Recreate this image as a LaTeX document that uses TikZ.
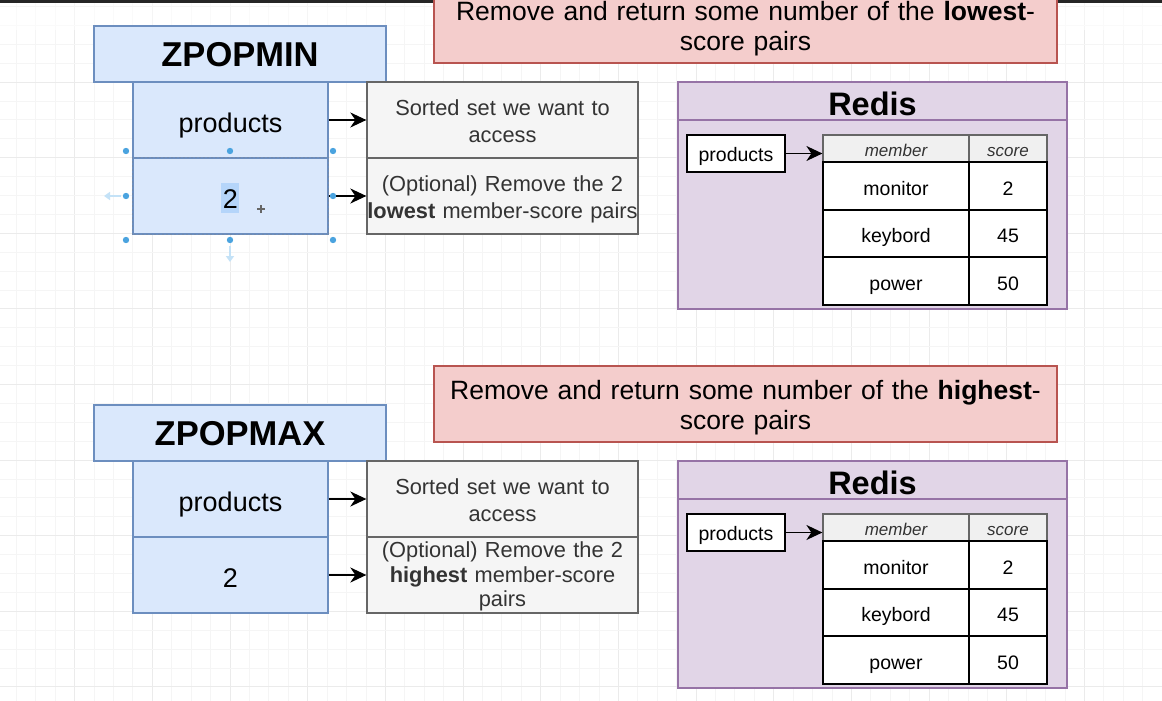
\documentclass[tikz,border=0pt]{standalone}
\usepackage{fontspec}
\setmainfont{Liberation Sans}
\usetikzlibrary{arrows.meta}
\definecolor{bluef}{HTML}{DAE8FC}
\definecolor{blueb}{HTML}{6C8EBF}
\definecolor{grayf}{HTML}{F5F5F5}
\definecolor{grayb}{HTML}{666666}
\definecolor{pinkf}{HTML}{F4CDCC}
\definecolor{pinkb}{HTML}{B85450}
\definecolor{purpf}{HTML}{E1D5E7}
\definecolor{purpb}{HTML}{9673A6}
\definecolor{txtgray}{HTML}{333333}
\definecolor{hdrf}{HTML}{F0F0F0}
\definecolor{gridminor}{HTML}{F5F5F5}
\definecolor{gridmajor}{HTML}{EBEBEB}
\definecolor{selblue}{HTML}{4AA3DF}
\definecolor{selhint}{HTML}{C4E2F7}
\definecolor{texthl}{HTML}{B5D5FA}
\begin{document}
\begin{tikzpicture}[x=1pt,y=-1pt,
  cmdbox/.style={draw=blueb,fill=bluef,line width=1.3pt,minimum width=292pt,minimum height=56pt,inner sep=0pt,text height=25pt,text depth=0pt,font=\fontsize{34.5}{38}\selectfont\bfseries},
  argbox/.style={draw=blueb,fill=bluef,line width=1.3pt,minimum width=195pt,minimum height=76pt,inner sep=0pt,text height=24pt,text depth=0pt,font=\fontsize{27}{30}\selectfont},
  descbox/.style={draw=grayb,fill=grayf,line width=1.3pt,minimum width=271pt,minimum height=76pt,text width=271pt,inner sep=0pt,align=center,text=txtgray,text height=23pt,text depth=31.3pt,font=\fontsize{21.8}{26.3}\selectfont},
  descboxb/.style={descbox,text height=19pt,text depth=54.2pt,font=\fontsize{21.8}{24.6}\selectfont},
  notebox/.style={draw=pinkb,fill=pinkf,line width=1.3pt,minimum width=623pt,minimum height=76pt,text width=615pt,inner sep=4pt,align=center,text height=25.5pt,text depth=35pt,font=\fontsize{26.5}{30}\selectfont},
  redishead/.style={draw=purpb,fill=purpf,line width=1.5pt,minimum width=389pt,minimum height=38pt,inner sep=0pt,text height=28pt,text depth=0pt,font=\fontsize{32.5}{36}\selectfont\bfseries},
  redisbody/.style={draw=purpb,fill=purpf,line width=1.5pt,minimum width=389pt,minimum height=189pt,inner sep=0pt},
  keybox/.style={draw=black,fill=white,line width=1.5pt,minimum width=98pt,minimum height=37pt,inner sep=0pt,text height=15pt,text depth=0pt,font=\fontsize{19.5}{22}\selectfont},
  hdrcell/.style={draw=grayb,fill=hdrf,line width=1.2pt,minimum height=27pt,inner sep=0pt,text=txtgray,text height=16.4pt,text depth=0pt,font=\fontsize{17}{20}\selectfont\itshape},
  cell/.style={draw=black,fill=white,line width=1.8pt,minimum height=47.67pt,inner sep=0pt,text height=18.4pt,text depth=0pt,font=\fontsize{19.5}{22}\selectfont},
  conn/.style={-{Stealth[length=16pt,width=15pt,inset=5pt]},line width=1.6pt,black},
  seldot/.style={fill=selblue,draw=none},
  hint/.style={-{Triangle[length=6pt,width=8pt]},line width=2.5pt,selhint}
]
\useasboundingbox (0,0) rectangle (1162,701);
\fill[white] (0,0) rectangle (1162,701);
% grid
\foreach \k in {-4,...,56} {
  \pgfmathsetmacro{\gx}{74.6+19.42*\k}
  \pgfmathtruncatemacro{\m}{mod(\k+400,4)}
  \ifnum\m=0 \draw[gridmajor,line width=0.8pt] (\gx,3) -- (\gx,701);
  \else \draw[gridminor,line width=0.8pt] (\gx,3) -- (\gx,701); \fi
}
\foreach \k in {-4,...,33} {
  \pgfmathsetmacro{\gy}{82+18.9*\k}
  \pgfmathtruncatemacro{\m}{mod(\k+400,4)}
  \ifnum\m=0 \draw[gridmajor,line width=0.8pt] (0,\gy) -- (1162,\gy);
  \else \draw[gridminor,line width=0.8pt] (0,\gy) -- (1162,\gy); \fi
}
\fill[white,opacity=0.55] (0,3) rectangle (1162,30);
\fill[black!85] (0,0) rectangle (1162,3);

\foreach \h/\dy/\cmd/\dtxt/\dsty/\ntxt in {
  a/0/ZPOPMIN/{(Optional) Remove the 2\\\textbf{lowest} member-score pairs}/descbox/{Remove and return some number of the \textbf{lowest}-\\score pairs},
  b/379/ZPOPMAX/{(Optional) Remove the 2\\\textbf{highest} member-score\\pairs}/descboxb/{Remove and return some number of the \textbf{highest}-\\score pairs}} {
  \begin{scope}[yshift=-\dy pt]
  \node[notebox] (note\h) at (745.5,25) {\ntxt};
  \node[cmdbox] (cmd\h) at (240,54) {\cmd};
  \node[argbox] (key\h) at (230.5,120) {products};
  \node[argbox] (num\h) at (230.5,196) {2};
  \node[descbox] (dkey\h) at (502.5,120) {Sorted set we want to\\access};
  \node[\dsty] (dnum\h) at (502.5,196) {\dtxt};
  \draw[conn] (key\h.east) -- (dkey\h.west);
  \draw[conn] (num\h.east) -- (dnum\h.west);
  % Redis container
  \node[redisbody] (rbody\h) at (872.5,214.5) {};
  \node[redishead] (rhead\h) at (872.5,101) {Redis};
  \node[keybox] (rkey\h) at (736,153.5) {products};
  \node[hdrcell,minimum width=146pt] (hm\h) at (896,148.5) {member};
  \node[hdrcell,minimum width=78pt] (hs\h) at (1008,148.5) {score};
  \node[cell,minimum width=146pt] (m1\h) at (896,185.83) {monitor};
  \node[cell,minimum width=78pt] (s1\h) at (1008,185.83) {2};
  \node[cell,minimum width=146pt] (m2\h) at (896,233.5) {keybord};
  \node[cell,minimum width=78pt] (s2\h) at (1008,233.5) {45};
  \node[cell,minimum width=146pt] (m3\h) at (896,281.17) {power};
  \node[cell,minimum width=78pt] (s3\h) at (1008,281.17) {50};
  \draw[conn] (rkey\h.east) -- (rkey\h.east -| hm\h.west);
  \end{scope}
}

% selection decorations around the top "2" box
\fill[texthl] (221,183) rectangle (239,213);
\node[font=\fontsize{27}{30}\selectfont,text height=24pt,text depth=0pt,inner sep=0pt] (numsel) at (230.5,196) {2};
\draw[blueb!70!gray,line width=1pt,dash pattern=on 2pt off 2pt] (numa.south west) rectangle (numa.north east);
\foreach \px/\py in {126/151,230/151,333/151,126/196,333/196,126/240,230/240,333/240}
  \fill[seldot] (\px,\py) circle (3.2pt);
\coordinate (hl0) at (121,196);
\coordinate (hl1) at (104,196);
\coordinate (hd0) at (230,246);
\coordinate (hd1) at (230,262);
\draw[hint] (hl0) -- (hl1);
\draw[hint] (hd0) -- (hd1);
% move cursor
\coordinate (cur) at (261,209);
\draw[gray!80!black,line width=1.2pt] ([xshift=-4pt]cur) -- ([xshift=4pt]cur) ([yshift=-4pt]cur) -- ([yshift=4pt]cur);
\end{tikzpicture}
\end{document}
